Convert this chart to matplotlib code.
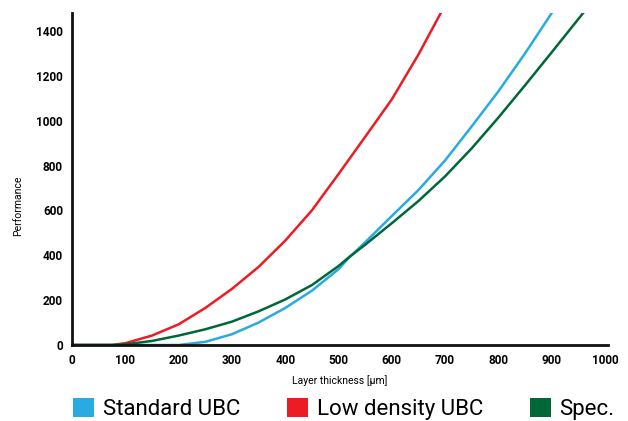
import matplotlib
matplotlib.use("Agg")
import matplotlib.pyplot as plt
from matplotlib.patches import Patch

plt.rcParams['font.family'] = ['Roboto', 'DejaVu Sans']

# Data
std_x = [0, 200, 250, 300, 350, 400, 450, 500, 520, 550, 600, 650, 700, 750, 800, 850, 900]
std_y = [0, 0, 14, 48, 100, 165, 242, 338, 390, 458, 575, 691, 823, 975, 1131, 1300, 1480]

low_x = [0, 75, 100, 150, 200, 250, 300, 350, 400, 450, 500, 550, 600, 650, 693]
low_y = [0, 0, 8, 42, 92, 165, 250, 348, 465, 600, 762, 928, 1095, 1295, 1485]

spec_x = [0, 77, 100, 150, 200, 250, 300, 350, 400, 450, 500, 520, 550, 600, 650, 700, 750, 800, 850, 900, 959]
spec_y = [0, 0, 3, 18, 42, 70, 104, 150, 203, 267, 352, 392, 447, 543, 642, 752, 877, 1014, 1158, 1305, 1480]

labels = ["Standard UBC", "Low density UBC", "Spec."]
colors = ["#29abe2", "#ed1c24", "#006837"]

x_ticks = [0, 100, 200, 300, 400, 500, 600, 700, 800, 900, 1000]
y_ticks = [0, 200, 400, 600, 800, 1000, 1200, 1400]

fig = plt.figure(figsize=(6.28, 4.21), dpi=100)
ax = fig.add_axes([72/628, 1-345/421, 535.7/628, 332/421])

for xs, ys, c in zip([std_x, low_x, spec_x], [std_y, low_y, spec_y], colors):
    ax.plot(xs, ys, color=c, lw=1.8, solid_joinstyle='round', clip_on=True)

ax.set_xlim(0, 1005)
ax.set_ylim(0, 1480)
ax.set_xticks(x_ticks)
ax.set_yticks(y_ticks)
ax.tick_params(length=0, labelsize=8.5, pad=6.5)
for lab in ax.get_xticklabels() + ax.get_yticklabels():
    lab.set_fontweight(600)
for s in ['top', 'right']:
    ax.spines[s].set_visible(False)
for s in ['left', 'bottom']:
    ax.spines[s].set_linewidth(2)
    ax.spines[s].set_color('#111111')

ax.set_xlabel("Layer thickness [µm]", fontsize=7.5)
ax.xaxis.set_label_coords(0.5, -0.108)
ax.xaxis.label.set_va('center')
ax.set_ylabel("Performance", fontsize=7.5)
ax.yaxis.set_label_coords(-0.1008, 0.42)
ax.yaxis.label.set_va('center')

handles = [Patch(facecolor=c, edgecolor='none') for c in colors]
fig.legend(handles, labels, loc='center left', bbox_to_anchor=(73/628, 1-409/421),
           ncol=3, frameon=False, fontsize=16, handlelength=0.94, handleheight=0.94,
           handletextpad=0.4, columnspacing=2.1, borderpad=0, borderaxespad=0)

fig.savefig("out.png", dpi=100)
